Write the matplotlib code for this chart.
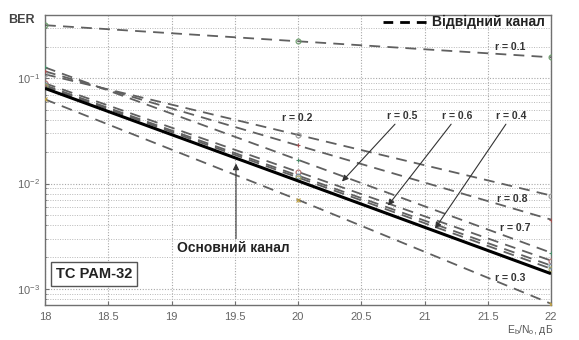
import matplotlib
matplotlib.use("Agg")
import matplotlib.pyplot as plt
from matplotlib.ticker import LogLocator, NullFormatter, FixedLocator

plt.rcParams['font.family'] = ['Liberation Sans', 'DejaVu Sans']

# ---- data ----
ebno = [18, 20, 22]
ber_main = [0.0803, 0.0106, 0.00139]
ber_r01 = [0.320, 0.225, 0.1585]
ber_r02 = [0.127, 0.0168, 0.00220]
ber_r03 = [0.0631, 0.0070, 0.00072]
ber_r04 = [0.0839, 0.0114, 0.00155]
ber_r05 = [0.0896, 0.0129, 0.00185]
ber_r06 = [0.0858, 0.0119, 0.00166]
ber_r07 = [0.1166, 0.0230, 0.00454]
ber_r08 = [0.1092, 0.0290, 0.00769]
xticks = [18, 18.5, 19, 19.5, 20, 20.5, 21, 21.5, 22]
xtick_labels = ['18', '18.5', '19', '19.5', '20', '20.5', '21', '21.5', '22']

W, H = 579, 340
fig = plt.figure(figsize=(W / 100, H / 100), dpi=100)
L, R, T, B = 45, 551, 15, 305
ax = fig.add_axes([L / W, 1 - B / H, (R - L) / W, (B - T) / H])
ax.set_yscale('log')
ax.set_xlim(18, 22)
ax.set_ylim(7e-4, 0.4)

# pixel -> data helpers for annotation placement
def px(x):
    return 18 + (x - L) / 126.5

def py(y):
    return 10 ** (-1 - (y - 78) / 105)

dash_color = '#606060'
dashes = (6, 4)
series = [
    (ber_r01, '#6a9a6a', 'o'),
    (ber_r08, '#9a9a9a', 'o'),
    (ber_r07, '#a05050', '+'),
    (ber_r02, '#4a8a6a', '+'),
    (ber_r05, '#b07070', 'o'),
    (ber_r06, '#7090a0', 'o'),
    (ber_r04, '#a0a060', 'o'),
    (ber_r03, '#c0a040', 'x'),
]
for vals, mc, mk in series:
    ax.plot(ebno, vals, color=dash_color, lw=1.3, dashes=dashes, zorder=3)
    ax.plot(ebno, vals, ls='none', marker=mk, ms=3.5, mfc='none', mec=mc, mew=0.8, zorder=4)

ax.plot(ebno, ber_main, color='black', lw=2.2, solid_capstyle='butt', zorder=5)

# grid
ax.xaxis.set_major_locator(FixedLocator(xticks))
ax.set_xticklabels(xtick_labels)
ax.yaxis.set_major_locator(LogLocator(base=10, numticks=10))
ax.yaxis.set_minor_locator(LogLocator(base=10, subs=range(2, 10), numticks=20))
ax.yaxis.set_minor_formatter(NullFormatter())
ax.grid(True, which='major', color='#a8a8a8', ls=(0, (1, 1.5)), lw=0.8)
ax.grid(True, which='minor', axis='y', color='#b8b8b8', ls=(0, (1, 1.5)), lw=0.7)
ax.set_axisbelow(True)
for s in ax.spines.values():
    s.set_color('#707070')
    s.set_linewidth(1.0)
ax.tick_params(axis='both', which='both', colors='#707070', labelcolor='#666666',
               labelsize=8, direction='in', length=3)
ax.tick_params(axis='y', which='minor', length=1.5)
ax.tick_params(axis='x', pad=5)

# axis labels
fig.text(8 / W, 1 - 20 / H, 'BER', fontsize=9, fontweight='bold', color='#444444',
         ha='left', va='center')
fig.text(553 / W, 1 - 330 / H, r'E$_\mathregular{b}$/N$_\mathregular{o}$, дБ', fontsize=7.5,
         color='#555555', ha='right', va='center')

# legend
leg_y = 22
ax.plot([px(383), px(429)], [py(leg_y)] * 2, color='black', lw=2.0, dashes=(3.5, 2.5),
        clip_on=False, zorder=6)
ax.text(px(432), py(leg_y), 'Відвідний канал', fontsize=10, fontweight='bold',
        color='#222222', ha='left', va='center')

# r labels
lab_kw = dict(fontsize=7.5, fontweight='bold', color='#333333', va='center', ha='left')
ax.text(px(495), py(47), 'r = 0.1', **lab_kw)
ax.text(px(282), py(118), 'r = 0.2', **lab_kw)
ax.text(px(497), py(198), 'r = 0.8', **lab_kw)
ax.text(px(500), py(227), 'r = 0.7', **lab_kw)
ax.text(px(495), py(277), 'r = 0.3', **lab_kw)

arrow_kw = dict(arrowstyle='-|>', color='#333333', lw=0.8, mutation_scale=9,
                shrinkA=0, shrinkB=0)
ax.annotate('r = 0.5', xy=(px(342), py(181)), xytext=(px(387), py(116)),
            arrowprops=arrow_kw, **lab_kw)
ax.annotate('r = 0.6', xy=(px(388), py(205)), xytext=(px(442), py(116)),
            arrowprops=arrow_kw, **lab_kw)
ax.annotate('r = 0.4', xy=(px(435), py(228)), xytext=(px(496), py(116)),
            arrowprops=arrow_kw, **lab_kw)

# main channel label with arrow
ax.annotate('', xy=(px(236), py(163)), xytext=(px(236), py(238)),
            arrowprops=arrow_kw)
ax.text(px(177), py(247), 'Основний канал', fontsize=10, fontweight='bold',
        color='#222222', ha='left', va='center')

# TC PAM-32 box
ax.text(px(56), py(273), 'TC PAM-32', fontsize=10.5, fontweight='bold', color='#222222',
        ha='left', va='center',
        bbox=dict(boxstyle='square,pad=0.35', fc='white', ec='#555555', lw=1.0))

fig.savefig('out.png', dpi=100)
